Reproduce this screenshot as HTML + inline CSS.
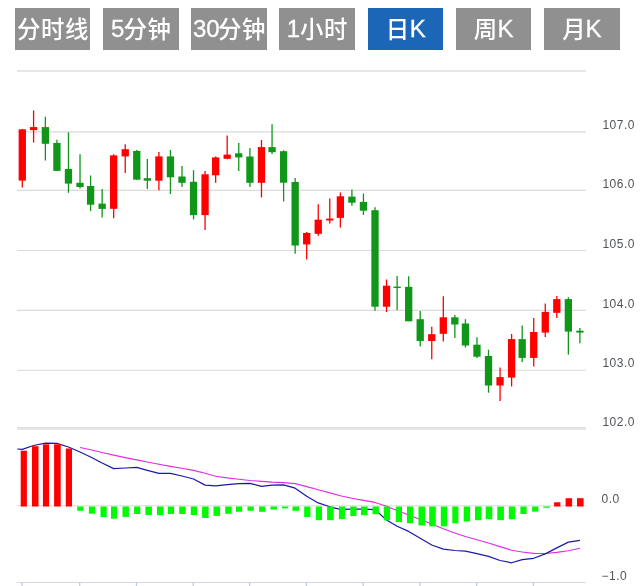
<!DOCTYPE html>
<html lang="zh-CN"><head><meta charset="utf-8"><title>K线图</title>
<style>
html,body{margin:0;padding:0;background:#fff;}
body{width:642px;height:586px;overflow:hidden;position:relative;font-family:"Liberation Sans","Noto Sans CJK SC",sans-serif;}
.tabs{position:absolute;left:0;top:0;width:642px;height:58px;margin:0;padding:0;list-style:none;}
.tabs li{position:absolute;top:8px;width:75px;height:42px;line-height:41px;background:#909090;color:#fff;font-size:24px;text-align:center;white-space:nowrap;}
.tabs li.on{background:#1c66b8;}
.tabs li b{font-weight:500;font-size:23.4px;letter-spacing:.6px;position:relative;top:.8px;margin-left:.5px;}
.tabs li i{font-style:normal;position:relative;-webkit-text-stroke:.3px #fff;}
#chart{position:absolute;left:0;top:0;}
#chart text{font-family:"Liberation Sans",sans-serif;font-size:12px;letter-spacing:.5px;fill:#505458;}
</style></head><body>
<ul class="tabs">
<li style="left:15px;width:75px"><b style="left:0.2px">分时线</b></li>
<li style="left:103px;width:76px"><i style="left:0.9px">5</i><b style="left:-0.5px">分钟</b></li>
<li style="left:191px;width:76px"><i style="left:1.5px">30</i><b style="left:-0.65px">分钟</b></li>
<li style="left:279px;width:76px"><i style="left:0.7px">1</i><b>小时</b></li>
<li class="on" style="left:368px;width:75px"><b>日</b><i>K</i></li>
<li style="left:456px;width:75px"><b>周</b><i style="left:-0.3px">K</i></li>
<li style="left:544px;width:76px"><b style="left:-0.1px">月</b><i style="left:-0.8px">K</i></li>
</ul>
<svg id="chart" width="642" height="586" viewBox="0 0 642 586">
<g stroke="#dadada" stroke-width="1.15" fill="none">
<path d="M17.0 131.80H585.9"/>
<path d="M17.0 190.40H585.9"/>
<path d="M17.0 250.50H585.9"/>
<path d="M17.0 310.40H585.9"/>
<path d="M17.0 370.25H585.9"/>
</g>
<path d="M17.0 71H585.9" stroke="#e6e6e6" stroke-width="2" fill="none"/>
<path d="M17.0 428.45H585.9" stroke="#e1e1e1" stroke-width="2.8" fill="none"/>
<path d="M17.0 505.80H585.9" stroke="#dadada" stroke-width="1" fill="none"/>
<path d="M17.0 582.5H585.9" stroke="#d4d9df" stroke-width="1.1" fill="none"/>
<g stroke="#c3ccd8" stroke-width="1.3" fill="none">
<path d="M21.99 582V592"/>
<path d="M79.72 582V592"/>
<path d="M136.47 582V592"/>
<path d="M193.23 582V592"/>
<path d="M249.64 582V592"/>
<path d="M306.40 582V592"/>
<path d="M363.15 582V592"/>
<path d="M419.91 582V592"/>
<path d="M476.67 582V592"/>
<path d="M533.43 582V592"/>
</g>
<polyline points="80.02,447.50 90.60,449.80 102.14,452.50 113.69,455.10 125.23,457.60 136.77,459.90 147.35,462.00 158.90,464.30 170.44,466.40 181.99,468.30 193.53,470.40 205.07,473.30 215.66,476.20 227.20,477.90 238.75,479.20 249.94,480.50 261.48,481.40 272.06,482.10 283.61,482.60 295.15,483.60 306.70,486.60 318.24,489.80 329.78,492.90 340.37,495.70 351.91,498.30 363.45,500.40 375.00,502.40 386.54,506.30 397.12,510.60 408.67,515.10 420.21,519.60 431.76,524.10 443.30,528.70 454.84,532.90 465.43,536.50 476.97,539.80 488.51,543.00 500.06,546.60 511.60,550.20 522.18,552.00 533.73,553.40 545.27,553.50 556.82,552.40 568.36,550.70 579.90,548.30" fill="none" stroke="#e22ce2" stroke-width="1.1" stroke-linejoin="round" stroke-linecap="butt"/>
<polyline points="17.30,449.00 22.29,449.40 33.59,445.50 45.38,443.20 56.93,443.40 68.47,447.00 80.02,452.00 90.60,457.00 102.14,463.00 113.69,468.60 125.23,468.00 136.77,467.30 147.35,470.30 158.90,473.40 170.44,473.40 181.99,476.00 193.53,479.00 205.07,485.10 215.66,485.80 227.20,484.70 238.75,483.70 249.94,483.40 261.48,486.40 272.06,485.20 283.61,484.80 295.15,488.20 306.70,496.20 318.24,502.90 329.78,506.80 340.37,509.40 351.91,509.20 363.45,509.20 375.00,509.60 386.54,520.00 397.12,526.30 408.67,531.40 420.21,538.20 431.76,545.00 443.30,549.10 454.84,550.50 465.43,551.10 476.97,553.70 488.51,556.40 500.06,560.50 511.60,562.80 522.18,559.60 533.73,558.30 545.27,553.90 556.82,547.90 568.36,542.10 579.90,540.40" fill="none" stroke="#1a1aa6" stroke-width="1.2" stroke-linejoin="round" stroke-linecap="butt"/>
<rect x="20.70" y="450.70" width="6.20" height="55.80" fill="#ff0000"/>
<rect x="32.00" y="446.20" width="6.50" height="60.30" fill="#ff0000"/>
<rect x="42.90" y="444.30" width="6.20" height="62.20" fill="#ff0000"/>
<rect x="54.10" y="444.30" width="6.60" height="62.20" fill="#ff0000"/>
<rect x="65.80" y="448.50" width="6.20" height="58.00" fill="#ff0000"/>
<rect x="77.20" y="506.50" width="6.40" height="4.30" fill="#04fa04"/>
<rect x="88.90" y="506.50" width="6.20" height="7.20" fill="#04fa04"/>
<rect x="100.50" y="506.50" width="6.20" height="10.50" fill="#04fa04"/>
<rect x="111.00" y="506.50" width="6.00" height="12.20" fill="#04fa04"/>
<rect x="122.50" y="506.50" width="6.40" height="10.40" fill="#04fa04"/>
<rect x="134.10" y="506.50" width="6.20" height="7.50" fill="#04fa04"/>
<rect x="145.40" y="506.50" width="6.50" height="8.50" fill="#04fa04"/>
<rect x="157.00" y="506.50" width="6.60" height="8.70" fill="#04fa04"/>
<rect x="167.90" y="506.50" width="6.20" height="7.50" fill="#04fa04"/>
<rect x="179.20" y="506.50" width="6.50" height="7.50" fill="#04fa04"/>
<rect x="190.80" y="506.50" width="6.20" height="8.50" fill="#04fa04"/>
<rect x="202.10" y="506.50" width="6.50" height="11.50" fill="#04fa04"/>
<rect x="213.50" y="506.50" width="6.60" height="9.40" fill="#04fa04"/>
<rect x="225.20" y="506.50" width="6.50" height="7.30" fill="#04fa04"/>
<rect x="236.00" y="506.50" width="6.20" height="5.30" fill="#04fa04"/>
<rect x="247.50" y="506.50" width="6.30" height="4.30" fill="#04fa04"/>
<rect x="259.10" y="506.50" width="6.20" height="5.30" fill="#04fa04"/>
<rect x="270.40" y="506.50" width="6.50" height="3.00" fill="#04fa04"/>
<rect x="282.00" y="506.50" width="6.20" height="1.90" fill="#04fa04"/>
<rect x="292.50" y="506.50" width="6.60" height="4.30" fill="#04fa04"/>
<rect x="304.20" y="506.50" width="6.20" height="10.50" fill="#04fa04"/>
<rect x="315.80" y="506.50" width="6.20" height="13.70" fill="#04fa04"/>
<rect x="327.10" y="506.50" width="6.60" height="13.70" fill="#04fa04"/>
<rect x="338.90" y="506.50" width="6.20" height="12.50" fill="#04fa04"/>
<rect x="350.30" y="506.50" width="6.20" height="9.60" fill="#04fa04"/>
<rect x="361.00" y="506.50" width="6.60" height="8.70" fill="#04fa04"/>
<rect x="372.50" y="506.50" width="6.40" height="7.70" fill="#04fa04"/>
<rect x="383.80" y="506.50" width="6.30" height="13.90" fill="#04fa04"/>
<rect x="395.80" y="506.50" width="6.20" height="15.60" fill="#04fa04"/>
<rect x="407.00" y="506.50" width="6.20" height="16.70" fill="#04fa04"/>
<rect x="418.50" y="506.50" width="6.60" height="19.00" fill="#04fa04"/>
<rect x="429.20" y="506.50" width="6.60" height="19.90" fill="#04fa04"/>
<rect x="440.80" y="506.50" width="6.20" height="19.90" fill="#04fa04"/>
<rect x="452.30" y="506.50" width="6.10" height="16.80" fill="#04fa04"/>
<rect x="463.70" y="506.50" width="6.40" height="15.00" fill="#04fa04"/>
<rect x="475.00" y="506.50" width="6.50" height="13.70" fill="#04fa04"/>
<rect x="485.70" y="506.50" width="6.60" height="12.70" fill="#04fa04"/>
<rect x="497.30" y="506.50" width="6.60" height="13.70" fill="#04fa04"/>
<rect x="508.80" y="506.50" width="6.40" height="12.70" fill="#04fa04"/>
<rect x="520.40" y="506.50" width="6.20" height="7.50" fill="#04fa04"/>
<rect x="532.10" y="506.50" width="6.20" height="5.20" fill="#04fa04"/>
<rect x="543.30" y="506.50" width="6.60" height="1.30" fill="#04fa04"/>
<rect x="554.10" y="502.30" width="6.30" height="4.20" fill="#ff0000"/>
<rect x="565.60" y="498.20" width="6.50" height="8.30" fill="#ff0000"/>
<rect x="577.00" y="498.20" width="6.60" height="8.30" fill="#ff0000"/>
<path d="M22.29 129.00V187.50" stroke="#ff0000" stroke-width="1.3" fill="none"/>
<rect x="18.64" y="129.30" width="7.30" height="51.30" fill="#ff0000"/>
<path d="M33.59 110.40V142.60" stroke="#ff0000" stroke-width="1.3" fill="none"/>
<rect x="29.94" y="127.10" width="7.30" height="3.00" fill="#ff0000"/>
<path d="M45.38 116.70V160.50" stroke="#109618" stroke-width="1.3" fill="none"/>
<rect x="41.73" y="127.10" width="7.30" height="16.70" fill="#109618"/>
<path d="M56.93 139.80V170.90" stroke="#109618" stroke-width="1.3" fill="none"/>
<rect x="53.28" y="143.00" width="7.30" height="27.90" fill="#109618"/>
<path d="M68.47 132.30V192.80" stroke="#109618" stroke-width="1.3" fill="none"/>
<rect x="64.82" y="168.90" width="7.30" height="14.70" fill="#109618"/>
<path d="M80.02 154.30V188.60" stroke="#109618" stroke-width="1.3" fill="none"/>
<rect x="76.36" y="182.80" width="7.30" height="4.20" fill="#109618"/>
<path d="M90.60 175.50V211.10" stroke="#109618" stroke-width="1.3" fill="none"/>
<rect x="86.95" y="186.00" width="7.30" height="18.70" fill="#109618"/>
<path d="M102.14 189.00V217.50" stroke="#109618" stroke-width="1.3" fill="none"/>
<rect x="98.49" y="203.60" width="7.30" height="5.30" fill="#109618"/>
<path d="M113.69 154.30V218.30" stroke="#ff0000" stroke-width="1.3" fill="none"/>
<rect x="110.03" y="155.40" width="7.30" height="53.40" fill="#ff0000"/>
<path d="M125.23 144.20V173.00" stroke="#ff0000" stroke-width="1.3" fill="none"/>
<rect x="121.58" y="149.20" width="7.30" height="7.20" fill="#ff0000"/>
<path d="M136.77 150.00V179.70" stroke="#109618" stroke-width="1.3" fill="none"/>
<rect x="133.12" y="150.90" width="7.30" height="28.80" fill="#109618"/>
<path d="M147.35 158.90V188.90" stroke="#109618" stroke-width="1.3" fill="none"/>
<rect x="143.70" y="178.20" width="7.30" height="2.50" fill="#109618"/>
<path d="M158.90 152.00V190.20" stroke="#ff0000" stroke-width="1.3" fill="none"/>
<rect x="155.25" y="156.40" width="7.30" height="24.30" fill="#ff0000"/>
<path d="M170.44 150.00V194.00" stroke="#109618" stroke-width="1.3" fill="none"/>
<rect x="166.79" y="156.40" width="7.30" height="20.90" fill="#109618"/>
<path d="M181.99 166.00V186.90" stroke="#109618" stroke-width="1.3" fill="none"/>
<rect x="178.34" y="176.50" width="7.30" height="6.30" fill="#109618"/>
<path d="M193.53 170.20V219.40" stroke="#109618" stroke-width="1.3" fill="none"/>
<rect x="189.88" y="181.80" width="7.30" height="33.30" fill="#109618"/>
<path d="M205.07 171.10V230.00" stroke="#ff0000" stroke-width="1.3" fill="none"/>
<rect x="201.42" y="174.30" width="7.30" height="40.80" fill="#ff0000"/>
<path d="M215.66 156.50V182.80" stroke="#ff0000" stroke-width="1.3" fill="none"/>
<rect x="212.01" y="157.40" width="7.30" height="17.90" fill="#ff0000"/>
<path d="M227.20 135.50V159.30" stroke="#ff0000" stroke-width="1.3" fill="none"/>
<rect x="223.55" y="154.60" width="7.30" height="4.20" fill="#ff0000"/>
<path d="M238.75 143.00V171.10" stroke="#109618" stroke-width="1.3" fill="none"/>
<rect x="235.09" y="153.30" width="7.30" height="4.10" fill="#109618"/>
<path d="M249.94 148.00V186.90" stroke="#109618" stroke-width="1.3" fill="none"/>
<rect x="246.29" y="156.50" width="7.30" height="26.30" fill="#109618"/>
<path d="M261.48 140.00V197.40" stroke="#ff0000" stroke-width="1.3" fill="none"/>
<rect x="257.83" y="147.10" width="7.30" height="35.70" fill="#ff0000"/>
<path d="M272.06 124.20V154.00" stroke="#109618" stroke-width="1.3" fill="none"/>
<rect x="268.41" y="147.10" width="7.30" height="5.10" fill="#109618"/>
<path d="M283.61 150.30V201.40" stroke="#109618" stroke-width="1.3" fill="none"/>
<rect x="279.96" y="151.20" width="7.30" height="31.50" fill="#109618"/>
<path d="M295.15 177.90V253.80" stroke="#109618" stroke-width="1.3" fill="none"/>
<rect x="291.50" y="182.00" width="7.30" height="63.50" fill="#109618"/>
<path d="M306.70 232.00V259.40" stroke="#ff0000" stroke-width="1.3" fill="none"/>
<rect x="303.05" y="232.90" width="7.30" height="11.50" fill="#ff0000"/>
<path d="M318.24 204.20V235.70" stroke="#ff0000" stroke-width="1.3" fill="none"/>
<rect x="314.59" y="219.70" width="7.30" height="14.10" fill="#ff0000"/>
<path d="M329.78 198.50V223.50" stroke="#ff0000" stroke-width="1.3" fill="none"/>
<rect x="326.13" y="218.60" width="7.30" height="1.90" fill="#ff0000"/>
<path d="M340.37 192.50V227.60" stroke="#ff0000" stroke-width="1.3" fill="none"/>
<rect x="336.72" y="196.30" width="7.30" height="21.60" fill="#ff0000"/>
<path d="M351.91 189.50V205.70" stroke="#109618" stroke-width="1.3" fill="none"/>
<rect x="348.26" y="196.60" width="7.30" height="6.10" fill="#109618"/>
<path d="M363.45 193.50V214.90" stroke="#109618" stroke-width="1.3" fill="none"/>
<rect x="359.80" y="201.90" width="7.30" height="8.80" fill="#109618"/>
<path d="M375.00 207.30V310.70" stroke="#109618" stroke-width="1.3" fill="none"/>
<rect x="371.35" y="210.20" width="7.30" height="96.50" fill="#109618"/>
<path d="M386.54 279.50V312.00" stroke="#ff0000" stroke-width="1.3" fill="none"/>
<rect x="382.89" y="285.70" width="7.30" height="21.00" fill="#ff0000"/>
<path d="M397.12 276.00V310.10" stroke="#109618" stroke-width="1.3" fill="none"/>
<rect x="393.47" y="286.60" width="7.30" height="1.40" fill="#109618"/>
<path d="M408.67 276.20V321.30" stroke="#109618" stroke-width="1.3" fill="none"/>
<rect x="405.02" y="286.80" width="7.30" height="34.50" fill="#109618"/>
<path d="M420.21 310.90V346.60" stroke="#109618" stroke-width="1.3" fill="none"/>
<rect x="416.56" y="319.20" width="7.30" height="21.80" fill="#109618"/>
<path d="M431.76 326.70V359.20" stroke="#ff0000" stroke-width="1.3" fill="none"/>
<rect x="428.11" y="334.20" width="7.30" height="6.80" fill="#ff0000"/>
<path d="M443.30 296.30V341.40" stroke="#ff0000" stroke-width="1.3" fill="none"/>
<rect x="439.65" y="317.30" width="7.30" height="16.50" fill="#ff0000"/>
<path d="M454.84 315.10V338.00" stroke="#109618" stroke-width="1.3" fill="none"/>
<rect x="451.19" y="317.30" width="7.30" height="7.20" fill="#109618"/>
<path d="M465.43 319.20V347.60" stroke="#109618" stroke-width="1.3" fill="none"/>
<rect x="461.78" y="323.50" width="7.30" height="22.00" fill="#109618"/>
<path d="M476.97 337.20V357.90" stroke="#109618" stroke-width="1.3" fill="none"/>
<rect x="473.32" y="344.70" width="7.30" height="12.00" fill="#109618"/>
<path d="M488.51 349.80V392.70" stroke="#109618" stroke-width="1.3" fill="none"/>
<rect x="484.86" y="356.00" width="7.30" height="29.50" fill="#109618"/>
<path d="M500.06 367.50V401.10" stroke="#ff0000" stroke-width="1.3" fill="none"/>
<rect x="496.41" y="377.10" width="7.30" height="8.40" fill="#ff0000"/>
<path d="M511.60 334.00V386.50" stroke="#ff0000" stroke-width="1.3" fill="none"/>
<rect x="507.95" y="339.10" width="7.30" height="38.50" fill="#ff0000"/>
<path d="M522.18 325.40V362.00" stroke="#109618" stroke-width="1.3" fill="none"/>
<rect x="518.53" y="339.10" width="7.30" height="18.80" fill="#109618"/>
<path d="M533.73 318.10V366.40" stroke="#ff0000" stroke-width="1.3" fill="none"/>
<rect x="530.08" y="332.00" width="7.30" height="25.90" fill="#ff0000"/>
<path d="M545.27 303.50V336.90" stroke="#ff0000" stroke-width="1.3" fill="none"/>
<rect x="541.62" y="311.90" width="7.30" height="20.70" fill="#ff0000"/>
<path d="M556.82 295.90V317.90" stroke="#ff0000" stroke-width="1.3" fill="none"/>
<rect x="553.17" y="299.10" width="7.30" height="13.70" fill="#ff0000"/>
<path d="M568.36 297.30V354.70" stroke="#109618" stroke-width="1.3" fill="none"/>
<rect x="564.71" y="299.10" width="7.30" height="32.50" fill="#109618"/>
<path d="M579.90 327.90V343.30" stroke="#109618" stroke-width="1.3" fill="none"/>
<rect x="576.25" y="330.70" width="7.30" height="1.90" fill="#109618"/>
<text x="602.4" y="129">107.0</text>
<text x="602.4" y="188">106.0</text>
<text x="602.4" y="248">105.0</text>
<text x="602.4" y="308">104.0</text>
<text x="602.4" y="367">103.0</text>
<text x="602.4" y="426">102.0</text>
<text x="601.6" y="503">0.0</text>
<text x="601.6" y="580">−1.0</text>
</svg>
</body></html>
